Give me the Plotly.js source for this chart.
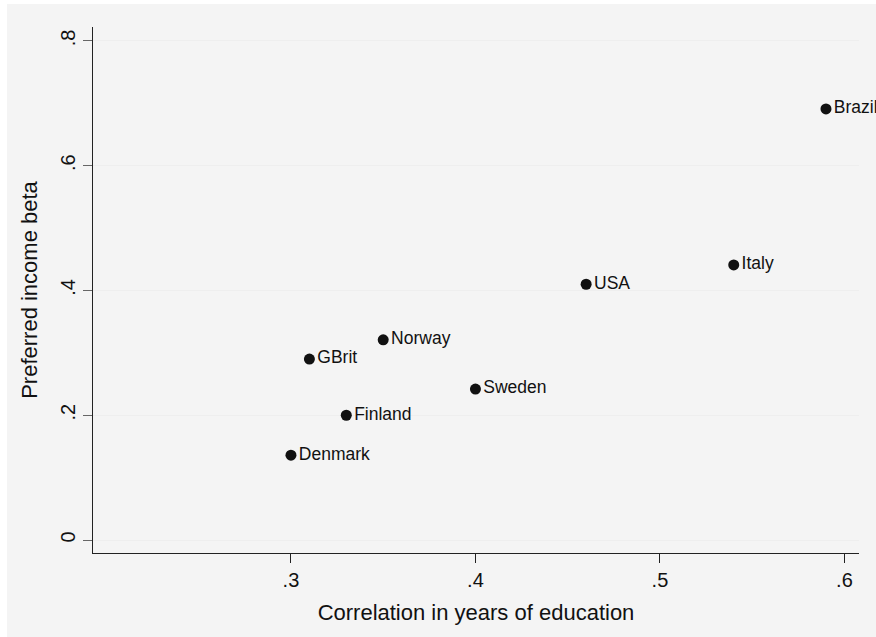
<!DOCTYPE html>
<html>
<head>
<meta charset="utf-8">
<script src="https://cdn.plot.ly/plotly-3.0.1.min.js"></script>
<style>html,body{margin:0;padding:0;background:#fff;}#chart{width:876px;height:637px;}</style>
</head>
<body>
<div id="chart"></div>
<script>
var countries = ["Denmark","GBrit","Finland","Norway","Sweden","USA","Italy","Brazil"];
var eduCorr = [0.30, 0.31, 0.33, 0.35, 0.40, 0.46, 0.54, 0.59];
var incomeBeta = [0.136, 0.290, 0.200, 0.321, 0.242, 0.410, 0.441, 0.691];
var xTickVals = [0.3, 0.4, 0.5, 0.6];
var xTickText = [".3", ".4", ".5", ".6"];
var yTickVals = [0, 0.2, 0.4, 0.6, 0.8];
var yTickText = ["0", ".2", ".4", ".6", ".8"];

var font = "Liberation Sans, Arial, Helvetica, sans-serif";
var trace = {
  x: eduCorr, y: incomeBeta, text: countries,
  type: "scatter", mode: "markers+text",
  textposition: "middle right",
  textfont: {family: font, size: 17.5, color: "#111"},
  marker: {size: 11, color: "#111"},
  cliponaxis: false,
  hoverinfo: "none"
};
var layout = {
  width: 876, height: 637,
  paper_bgcolor: "#ffffff",
  plot_bgcolor: "#ffffff",
  margin: {l: 93, r: 17, t: 27, b: 84, pad: 0},
  showlegend: false,
  font: {family: font, color: "#111"},
  xaxis: {
    range: [0.1927, 0.6079],
    tickvals: xTickVals, ticktext: xTickText,
    ticks: "outside", ticklen: 9, tickcolor: "#222", tickwidth: 1,
    showgrid: false, zeroline: false,
    showline: true, linecolor: "#222", linewidth: 1,
    tickfont: {size: 20, family: font, color: "#111"},
    title: {text: "Correlation in years of education", font: {size: 22, family: font, color: "#111"}, standoff: 14}
  },
  yaxis: {
    range: [-0.0208, 0.8224],
    tickvals: yTickVals, ticktext: yTickText,
    tickangle: -90,
    ticks: "outside", ticklen: 9, tickcolor: "#666", tickwidth: 1,
    showgrid: true, gridcolor: "#eeeeee", gridwidth: 1,
    zeroline: false,
    showline: true, linecolor: "#222", linewidth: 1,
    tickfont: {size: 20, family: font, color: "#111"},
    title: {text: "Preferred income beta", font: {size: 22, family: font, color: "#111"}, standoff: 13}
  },
  shapes: [{
    type: "rect", layer: "below",
    xref: "paper", yref: "paper",
    x0: (7 - 93) / 766, x1: (876 - 93) / 766,
    y0: (553 - 637) / 526, y1: (553 - 4) / 526,
    fillcolor: "#f4f4f4", line: {width: 0}
  }]
};
Plotly.newPlot("chart", [trace], layout, {displayModeBar: false, staticPlot: true});
</script>
</body>
</html>
